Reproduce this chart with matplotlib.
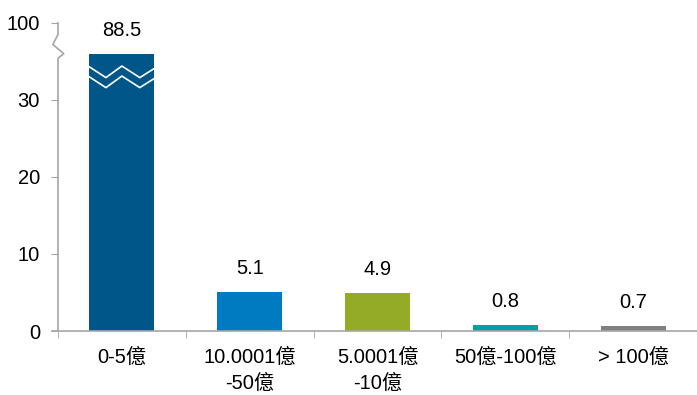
import matplotlib.pyplot as plt

plt.rcParams['font.family'] = ['Liberation Sans', 'Noto Sans CJK TC', 'DejaVu Sans']

categories = ["0-5億", "10.0001億\n-50億", "5.0001億\n-10億", "50億-100億", "> 100億"]
values = [88.5, 5.1, 4.9, 0.8, 0.7]
colors = ["#005689", "#007AC0", "#94AB27", "#00A09E", "#808080"]
ytick_vals = [0, 10, 20, 30, 40]
ytick_labels = ["0", "10", "20", "30", "100"]

cap = 36  # bars above the break are drawn to this height
shown = [min(v, cap) for v in values]
x = list(range(len(categories)))

fs = 14.5

fig = plt.figure(figsize=(6.97, 3.95), dpi=100)
ax = fig.add_axes([0.0832, 0.162, 0.9168, 0.780])
ax.bar(x, shown, width=0.51, color=colors)
ax.set_xlim(-0.5, 4.5)
ax.set_ylim(0, 40)

for xi, v, s in zip(x, values, shown):
    ax.annotate(f"{v}", (xi, s), xytext=(0, 10), textcoords="offset points",
                ha="center", va="bottom", fontsize=fs)

# break marks on the tall bar
zx = [-0.255, -0.125, 0.0, 0.14, 0.255]
zy = [34.3, 32.9, 34.4, 32.9, 34.1]
for shift in (0, -1.3):
    ax.plot([x[0] + d for d in zx], [y + shift for y in zy], color="white", lw=1.2)

# axes drawn by hand: y axis with break, x axis reaching a little left
grey = "#A6A6A6"
for side in ["left", "top", "right", "bottom"]:
    ax.spines[side].set_visible(False)
ax.plot([-0.5, -0.5, -0.54, -0.455, -0.5, -0.5], [40, 38.5, 37.2, 36.0, 35.4, 0],
        color=grey, lw=1.2, clip_on=False)
ax.plot([-0.545, 4.5], [0, 0], color=grey, lw=1.2, clip_on=False)

ax.set_yticks(ytick_vals)
ax.set_yticklabels(ytick_labels, fontsize=fs)
ax.tick_params(axis="y", length=5, color=grey, pad=8)

ax.set_xticks(x)
ax.set_xticklabels(categories, fontsize=fs, linespacing=1.45)
ax.tick_params(axis="x", which="major", length=0, pad=12)
ax.set_xticks([i + 0.5 for i in range(-1, 5)], minor=True)
ax.tick_params(axis="x", which="minor", length=5, color=grey)

fig.savefig("out.png", dpi=100)
